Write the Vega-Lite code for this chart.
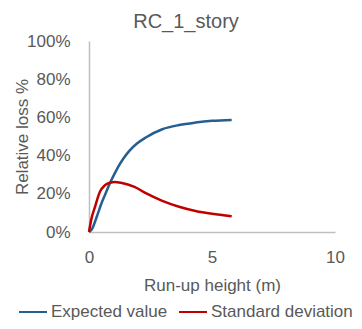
{
  "$schema": "https://vega.github.io/schema/vega-lite/v6.json",
  "width": 246,
  "height": 191,
  "autosize": {"type": "none"},
  "padding": {"left": 89, "top": 41, "right": 27, "bottom": 97},
  "background": "white",
  "title": {"text": "RC_1_story", "fontSize": 20, "font": "Liberation Sans", "fontWeight": "normal", "color": "#595959", "anchor": "middle", "dx": -26, "offset": 0},
  "config": {"view": {"stroke": null}, "font": "Liberation Sans"},
  "data": {"values": [
    {"x": 0, "v": 0, "s": "Expected value"},
    {"x": 0.12, "v": 1.5, "s": "Expected value"},
    {"x": 0.24, "v": 5.2, "s": "Expected value"},
    {"x": 0.37, "v": 10, "s": "Expected value"},
    {"x": 0.5, "v": 14.8, "s": "Expected value"},
    {"x": 0.67, "v": 20, "s": "Expected value"},
    {"x": 0.84, "v": 25.3, "s": "Expected value"},
    {"x": 1.0, "v": 29.5, "s": "Expected value"},
    {"x": 1.18, "v": 34, "s": "Expected value"},
    {"x": 1.4, "v": 38.5, "s": "Expected value"},
    {"x": 1.64, "v": 42.5, "s": "Expected value"},
    {"x": 1.95, "v": 46.3, "s": "Expected value"},
    {"x": 2.31, "v": 49.5, "s": "Expected value"},
    {"x": 2.98, "v": 53.8, "s": "Expected value"},
    {"x": 3.66, "v": 56, "s": "Expected value"},
    {"x": 4.33, "v": 57.3, "s": "Expected value"},
    {"x": 5.0, "v": 58.2, "s": "Expected value"},
    {"x": 5.8, "v": 58.7, "s": "Expected value"},
    {"x": 0, "v": 0, "s": "Standard deviation"},
    {"x": 0.1, "v": 7, "s": "Standard deviation"},
    {"x": 0.24, "v": 13, "s": "Standard deviation"},
    {"x": 0.44, "v": 21, "s": "Standard deviation"},
    {"x": 0.64, "v": 24.4, "s": "Standard deviation"},
    {"x": 0.85, "v": 25.8, "s": "Standard deviation"},
    {"x": 1.05, "v": 26.2, "s": "Standard deviation"},
    {"x": 1.3, "v": 25.8, "s": "Standard deviation"},
    {"x": 1.85, "v": 23.6, "s": "Standard deviation"},
    {"x": 2.31, "v": 20.3, "s": "Standard deviation"},
    {"x": 2.98, "v": 16.3, "s": "Standard deviation"},
    {"x": 3.66, "v": 13.2, "s": "Standard deviation"},
    {"x": 4.33, "v": 11, "s": "Standard deviation"},
    {"x": 5.0, "v": 9.5, "s": "Standard deviation"},
    {"x": 5.8, "v": 8.2, "s": "Standard deviation"}
  ]},
  "mark": {"type": "line", "interpolate": "monotone", "strokeWidth": 2.5},
  "encoding": {
    "x": {"field": "x", "type": "quantitative",
      "scale": {"domain": [0, 10], "nice": false},
      "axis": {"values": [0, 5, 10], "title": "Run-up height (m)", "grid": false, "ticks": false, "labelFlush": false,
        "domainColor": "#bfbfbf", "domainWidth": 1.5, "labelFontSize": 17, "labelColor": "#595959",
        "labelPadding": 17, "titleFontSize": 17, "titleColor": "#595959", "titleFontWeight": "normal", "titlePadding": 12}},
    "y": {"field": "v", "type": "quantitative",
      "scale": {"domain": [0, 100], "nice": false},
      "axis": {"values": [0, 20, 40, 60, 80, 100], "labelExpr": "datum.value + '%'", "title": "Relative loss %", "grid": false, "ticks": false, "labelFlush": false,
        "domainColor": "#bfbfbf", "domainWidth": 1.5, "labelFontSize": 17, "labelColor": "#595959",
        "labelPadding": 19, "titleFontSize": 17, "titleColor": "#595959", "titleFontWeight": "normal", "titlePadding": -5}},
    "color": {"field": "s", "type": "nominal",
      "scale": {"domain": ["Expected value", "Standard deviation"], "range": ["#255e91", "#c00000"]},
      "legend": {"title": null, "orient": "none", "legendX": -71, "legendY": 256, "direction": "horizontal",
        "symbolType": "stroke", "symbolSize": 784, "symbolStrokeWidth": 2, "labelFontSize": 17, "labelColor": "#595959",
        "labelOffset": 3, "columnPadding": 7}}
  }
}
